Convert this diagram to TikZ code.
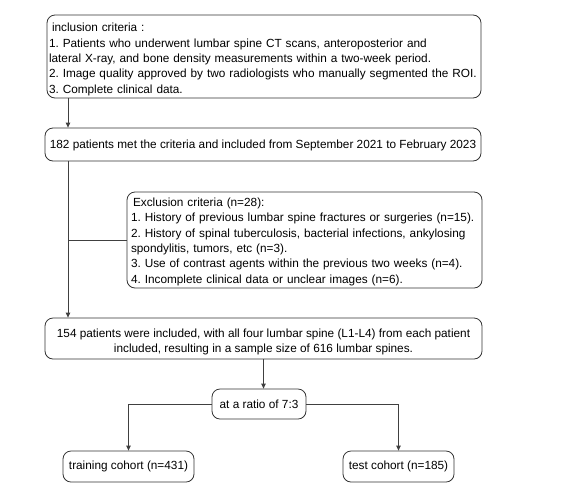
\documentclass[tikz,border=0pt]{standalone}
\usepackage{fontspec}
\setmainfont{Liberation Sans}
\usetikzlibrary{arrows.meta}
\frenchspacing
\newcommand{\topgap}[1]{\rule{0pt}{#1}}
\begin{document}
\begin{tikzpicture}[x=1pt,y=-1pt,
  box/.style={draw=black!80, line width=0.8pt, rounded corners=8pt, inner sep=0pt,
    font=\fontsize{11.8}{15.4}\selectfont},
  conn/.style={draw=black!75, line width=0.8pt},
  arr/.style={conn, -{Triangle[length=5pt,width=4.5pt]}}]
\useasboundingbox (0,0) rectangle (561,493);
\node[box, minimum width=434, minimum height=83, text width=430, align=left] (inc) at (264,56.5)
  {\topgap{14.6pt}\hspace*{3pt}inclusion criteria :\\%
1. Patients who underwent lumbar spine CT scans, anteroposterior and\\%
lateral X-ray, and bone density measurements within a two-week period.\\%
2. Image quality approved by two radiologists who manually segmented the ROI.\\%
3. Complete clinical data.};
\node[box, minimum width=436, minimum height=33] (p182) at (263,144.5)
  {\topgap{10.5pt}182 patients met the criteria and included from September 2021 to February 2023};
\node[box, minimum width=355, minimum height=96, text width=347, align=left] (excl) at (304.5,240)
  {\topgap{12pt}\hspace*{2pt}Exclusion criteria (n=28):\\%
1. History of previous lumbar spine fractures or surgeries (n=15).\\%
2. History of spinal tuberculosis, bacterial infections, ankylosing\\%
spondylitis, tumors, etc (n=3).\\%
3. Use of contrast agents within the previous two weeks (n=4).\\%
4. Incomplete clinical data or unclear images (n=6).};
\node[box, minimum width=437, minimum height=41, align=center] (p154) at (263.5,338.5)
  {\topgap{15.5pt}154 patients were included, with all four lumbar spine (L1-L4) from each patient\\%
included, resulting in a sample size of 616 lumbar spines.};
\node[box, minimum width=94, minimum height=30] (ratio) at (259,404)
  {at a ratio of 7:3};
\node[box, minimum width=131, minimum height=31] (train) at (128.5,466.5)
  {training cohort (n=431)};
\node[box, minimum width=111, minimum height=31] (test) at (398.5,466.5)
  {test cohort (n=185)};
\coordinate (lx) at (68,0);
\draw[arr] (inc.south -| lx) -- (p182.north -| lx);
\draw[arr] (p182.south -| lx) -- (p154.north -| lx);
\draw[conn] (excl.west) -- (excl.west -| lx);
\draw[arr] (p154.south) -- (p154.south |- ratio.north);
\draw[arr] (ratio.west) -| (train.north);
\draw[arr] (ratio.east) -| (test.north);
\end{tikzpicture}
\end{document}
